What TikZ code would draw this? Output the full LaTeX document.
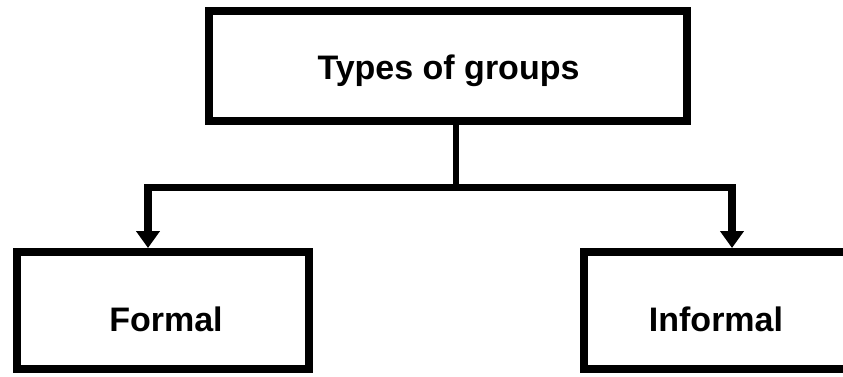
\documentclass[tikz,border=0pt]{standalone}
\usepackage{fontspec}
\setmainfont{Liberation Sans}
\usetikzlibrary{arrows.meta}
\begin{document}
\begin{tikzpicture}[x=1pt,y=-1pt,
  box/.style={draw=black, line width=8pt, rectangle, minimum width=#1, inner sep=0pt, line join=miter},
  lbl/.style={font=\fontsize{34}{40}\selectfont\bfseries, inner sep=0pt, anchor=base},
  conn/.style={draw=black, line width=7.5pt, line join=miter},
  arr/.style={conn, -{Triangle[width=23pt,length=17pt]}}]
\useasboundingbox (0,0) rectangle (843,376);
\fill[white] (0,0) rectangle (843,376);
% boxes
\node[box=478pt, minimum height=110pt] (top) at (448,66) {};
\node[box=292pt, minimum height=117pt] (formal) at (163,310.5) {};
\node[box=272pt, minimum height=117pt] (informal) at (720,310.5) {};
% labels
\node[lbl] (toptext) at (448.5,79) {Types of groups};
\node[lbl] (formaltext) at (166,331) {Formal};
\node[lbl] (informaltext) at (716,331) {Informal};
% connectors
\coordinate (hub) at (456,187.5);
\coordinate (ja) at (148,187.5);
\coordinate (jb) at (732,187.5);
\draw[conn, line width=6.5pt] (top.south -| hub) -- (hub);
\draw[arr] (hub) -- (ja) -- (formal.north -| ja);
\draw[arr] (hub) -- (jb) -- (informal.north -| jb);
\end{tikzpicture}
\end{document}
